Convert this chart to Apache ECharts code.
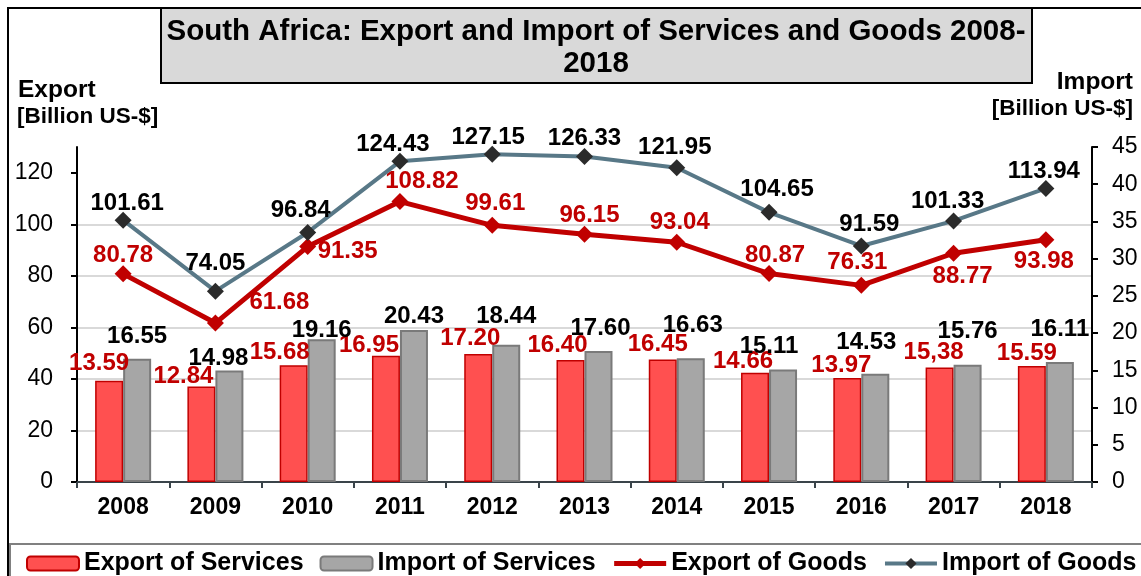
<!DOCTYPE html>
<html>
<head>
<meta charset="utf-8">
<script src="https://cdn.jsdelivr.net/npm/echarts@6/dist/echarts.min.js"></script>
<style>
  html, body { margin: 0; padding: 0; background: #fff; }
  #graph { width: 1141px; height: 576px; }
</style>
</head>
<body>
<div id="graph"></div>
<script>
// values
var years = ['2008', '2009', '2010', '2011', '2012', '2013', '2014', '2015', '2016', '2017', '2018'];
var exportServices = [13.59, 12.84, 15.68, 16.95, 17.20, 16.40, 16.45, 14.66, 13.97, 15.38, 15.59];
var exportServicesText = ['13.59', '12.84', '15.68', '16.95', '17.20', '16.40', '16.45', '14.66', '13.97', '15,38', '15.59'];
var importServices = [16.55, 14.98, 19.16, 20.43, 18.44, 17.60, 16.63, 15.11, 14.53, 15.76, 16.11];
var exportGoods = [80.78, 61.68, 91.35, 108.82, 99.61, 96.15, 93.04, 80.87, 76.31, 88.77, 93.98];
var importGoods = [101.61, 74.05, 96.84, 124.43, 127.15, 126.33, 121.95, 104.65, 91.59, 101.33, 113.94];
var leftTicks = [0, 20, 40, 60, 80, 100, 120];

// label nudges (pixels), roughly where the original puts them
var exSrvOff = [[-10,-5],[-18,2],[-14,-1],[-17,2],[-8,-4],[-13,-3],[-5,-3],[-12,1],[-6,-1],[-6,-3],[-5,-1]];
var imSrvOff = [[0,-10],[-11,0],[0,3],[0,-2],[0,-16],[2,-11],[2,-21],[-14,-11],[-9,-19],[0,-21],[0,-21]];
var exGdsOff = [[0,-18],[64,-21],[40,5],[22,-20],[3,-22],[5,-19],[3,-20],[6,-18],[-4,-23],[9,23],[-2,22]];
var imGdsOff = [[4,-17],[0,-28],[-7,-22],[-7,-17],[-4,-17],[0,-18],[-2,-20],[8,-23],[8,-22],[-6,-20],[-2,-17]];

var FONT = "'Liberation Sans', Arial, sans-serif";
var RED = '#c00000';

function withLabels(values, offsets, pos, texts) {
  return values.map(function (v, i) {
    return {
      value: v,
      label: {
        position: pos,
        offset: offsets[i],
        formatter: texts ? texts[i] : v.toFixed(2)
      }
    };
  });
}

var dom = document.getElementById('graph');
var myChart = echarts.init(dom, null, { renderer: 'canvas' });

var labelBase = {
  show: true,
  distance: 0,
  fontFamily: FONT,
  fontSize: 24,
  fontWeight: 'bold'
};

var option = {
  animation: false,
  textStyle: { fontFamily: FONT },
  title: {
    text: 'South Africa: Export and Import of Services and Goods 2008-\n2018',
    left: 591,
    top: 11,
    textAlign: 'center',
    textStyle: {
      fontFamily: FONT,
      fontSize: 29.5,
      fontWeight: 'bold',
      color: '#000',
      lineHeight: 32
    }
  },
  graphic: [
    {
      type: 'rect', z: -10,
      shape: { x: 8, y: 8, width: 1300, height: 1000 },
      style: { fill: 'none', stroke: '#000', lineWidth: 2 }
    },
    {
      type: 'rect', z: -5,
      shape: { x: 161, y: 8, width: 871, height: 75 },
      style: { fill: '#d9d9d9', stroke: '#000', lineWidth: 2 }
    },
    {
      type: 'rect', z: -5,
      shape: { x: 10, y: 544, width: 1300, height: 100 },
      style: { fill: 'none', stroke: '#808080', lineWidth: 2 }
    },
    {
      type: 'text', left: 18, top: 78,
      style: { text: 'Export', font: 'bold 24.5px ' + FONT, fill: '#000' }
    },
    {
      type: 'text', left: 17, top: 105,
      style: { text: '[Billion US-$]', font: 'bold 22.5px ' + FONT, fill: '#000' }
    },
    {
      type: 'text', right: 8, top: 70,
      style: { text: 'Import', font: 'bold 24.5px ' + FONT, fill: '#000', align: 'right' }
    },
    {
      type: 'text', right: 8, top: 97,
      style: { text: '[Billion US-$]', font: 'bold 22.5px ' + FONT, fill: '#000', align: 'right' }
    }
  ],
  legend: {
    left: 21,
    top: 546,
    width: 1300,
    itemWidth: 52,
    itemHeight: 14,
    itemGap: 16,
    lineStyle: { width: 'inherit' },
    textStyle: { fontFamily: FONT, fontSize: 25, fontWeight: 'bold', color: '#000' },
    data: ['Export of Services', 'Import of Services', 'Export of Goods', 'Import of Goods']
  },
  grid: {
    left: 77,
    right: 49,
    top: 147,
    bottom: 94,
    containLabel: false,
    outerBoundsMode: 'none'
  },
  xAxis: {
    type: 'category',
    data: years,
    boundaryGap: true,
    axisLine: { lineStyle: { color: '#3a444a', width: 2 } },
    axisTick: { show: true, length: 6, lineStyle: { color: '#3a444a', width: 2 } },
    axisLabel: {
      margin: 14,
      fontFamily: FONT,
      fontSize: 23,
      fontWeight: 'bold',
      color: '#000'
    }
  },
  yAxis: [
    {
      type: 'value',
      min: 0,
      max: 130,
      interval: 20,
      axisLine: { show: true, lineStyle: { color: '#000', width: 2 } },
      axisTick: { show: true, length: 6, customValues: leftTicks, lineStyle: { color: '#000', width: 2 } },
      axisLabel: {
        customValues: leftTicks,
        margin: 24,
        fontFamily: FONT,
        fontSize: 23,
        color: '#000'
      },
      splitLine: { show: true, showMaxLine: false, lineStyle: { color: '#d9d9d9', width: 2 } }
    },
    {
      type: 'value',
      min: 0,
      max: 45,
      interval: 5,
      position: 'right',
      axisLine: { show: true, lineStyle: { color: '#000', width: 2 } },
      axisTick: { show: true, length: 6, lineStyle: { color: '#000', width: 2 } },
      axisLabel: {
        margin: 20,
        fontFamily: FONT,
        fontSize: 23,
        color: '#000'
      },
      splitLine: { show: false }
    }
  ],
  series: [
    {
      name: 'Export of Services',
      type: 'bar',
      yAxisIndex: 1,
      barWidth: 28,
      barGap: '0%',
      itemStyle: { color: '#ff5050', borderColor: RED, borderWidth: 1.5 },
      label: Object.assign({}, labelBase, { color: RED }),
      data: withLabels(exportServices, exSrvOff, 'top', exportServicesText)
    },
    {
      name: 'Import of Services',
      type: 'bar',
      yAxisIndex: 1,
      barWidth: 28,
      barGap: '0%',
      itemStyle: { color: '#a6a6a6', borderColor: '#7a7a7a', borderWidth: 2 },
      label: Object.assign({}, labelBase, { color: '#000' }),
      data: withLabels(importServices, imSrvOff, 'top')
    },
    {
      name: 'Export of Goods',
      type: 'line',
      yAxisIndex: 0,
      symbol: 'diamond',
      symbolSize: 17,
      z: 5,
      lineStyle: { color: RED, width: 5 },
      itemStyle: { color: RED },
      label: Object.assign({}, labelBase, { color: RED }),
      data: withLabels(exportGoods, exGdsOff, 'inside')
    },
    {
      name: 'Import of Goods',
      type: 'line',
      yAxisIndex: 0,
      symbol: 'diamond',
      symbolSize: 17,
      z: 6,
      lineStyle: { color: '#587887', width: 4 },
      itemStyle: { color: '#2b2b2b' },
      label: Object.assign({}, labelBase, { color: '#000' }),
      data: withLabels(importGoods, imGdsOff, 'inside')
    }
  ]
};

if (option && typeof option === 'object') {
  myChart.setOption(option, true);
}
</script>
</body>
</html>
